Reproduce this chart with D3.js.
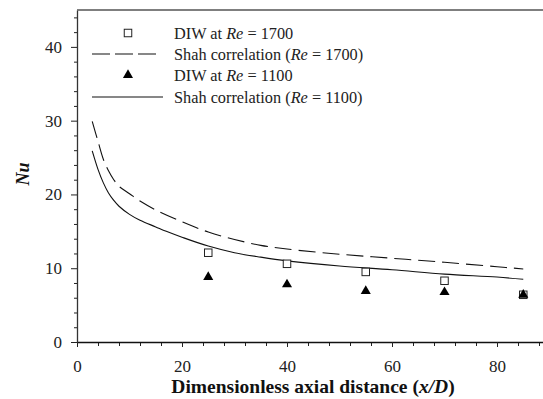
<!DOCTYPE html>
<html>
<head>
<meta charset="utf-8">
<script src="https://cdn.jsdelivr.net/npm/d3@7"></script>
<style>
  html, body { margin: 0; padding: 0; background: #fff; }
</style>
</head>
<body>
<svg id="chart" width="543" height="399"></svg>
<script>
// measured points (x/D)
const diwX = [25, 40, 55, 70, 85];
const diw1700 = [12.1, 10.6, 9.5, 8.3, 6.4];
const diw1100 = [8.8, 7.8, 6.9, 6.75, 6.4];

// Shah correlation curves
const shah1700X = [2.9, 4, 5, 6, 7, 8, 10, 12, 15, 20, 25, 30, 35, 40, 50, 60, 70, 80, 85];
const shah1700Y = [29.9, 27.2, 24.8, 23.2, 22.0, 21.1, 20.1, 19.1, 17.9, 16.3, 14.9, 13.9, 13.1, 12.6, 11.9, 11.35, 10.8, 10.2, 9.9];
const shah1100X = [2.9, 4, 5, 6, 7, 8, 10, 12, 15, 17, 20, 25, 30, 35, 40, 50, 60, 70, 80, 85];
const shah1100Y = [25.9, 23.4, 21.6, 20.2, 19.2, 18.4, 17.3, 16.5, 15.6, 15.0, 14.2, 13.0, 12.1, 11.5, 11.0, 10.3, 9.8, 9.2, 8.8, 8.5];

const xMajor = [0, 20, 40, 60, 80];
const yMajor = [0, 10, 20, 30, 40];

const FONT = 'Liberation Serif';

const svg = d3.select('#chart');
const L = 77, R = 543, T = 10, B = 342;

const x = d3.scaleLinear().domain([0, 88.76]).range([L, R]);
const y = d3.scaleLinear().domain([0, 45]).range([B, T]);

// minor ticks
const xMinor = d3.range(0, 89, 4).filter(v => !xMajor.includes(v));
const yMinor = d3.range(0, 45, 2).filter(v => !yMajor.includes(v));

// x axis
svg.append('g')
  .attr('transform', `translate(0,${B})`)
  .call(d3.axisBottom(x).tickValues(xMinor).tickSize(4).tickFormat(''))
  .call(g => g.select('.domain').remove())
  .call(g => g.selectAll('line').attr('stroke', '#222'));
svg.append('g')
  .attr('transform', `translate(0,${B})`)
  .call(d3.axisBottom(x).tickValues(xMajor).tickSize(5).tickPadding(13).tickSizeOuter(0))
  .call(g => g.attr('font-family', FONT).attr('font-size', 17))
  .call(g => g.select('.domain').attr('stroke', '#111').attr('stroke-width', 1.3))
  .call(g => g.selectAll('line').attr('stroke', '#222'))
  .call(g => g.selectAll('text').attr('fill', '#222'));

// y axis
svg.append('g')
  .attr('transform', `translate(${L},0)`)
  .call(d3.axisLeft(y).tickValues(yMinor).tickSize(3).tickFormat(''))
  .call(g => g.select('.domain').remove())
  .call(g => g.selectAll('line').attr('stroke', '#222'));
svg.append('g')
  .attr('transform', `translate(${L},0)`)
  .call(d3.axisLeft(y).tickValues(yMajor).tickSize(6).tickPadding(9).tickSizeOuter(0))
  .call(g => g.attr('font-family', FONT).attr('font-size', 17))
  .call(g => g.select('.domain').attr('stroke', '#333').attr('stroke-width', 1.3))
  .call(g => g.selectAll('line').attr('stroke', '#222'))
  .call(g => g.selectAll('text').attr('fill', '#222'));

// top frame line
svg.append('line')
  .attr('x1', L).attr('x2', R).attr('y1', T).attr('y2', T)
  .attr('stroke', '#555').attr('stroke-width', 1.5);

// curves
const line = d3.line().x(d => x(d[0])).y(d => y(d[1])).curve(d3.curveCatmullRom.alpha(0.5));
svg.append('path')
  .datum(shah1700X.map((v, i) => [v, shah1700Y[i]]))
  .attr('d', line).attr('fill', 'none').attr('stroke', '#111')
  .attr('stroke-width', 1.1).attr('stroke-dasharray', '17,7');
svg.append('path')
  .datum(shah1100X.map((v, i) => [v, shah1100Y[i]]))
  .attr('d', line).attr('fill', 'none').attr('stroke', '#111')
  .attr('stroke-width', 1.1);

// markers
const sq = 7.5;
svg.append('g').selectAll('rect')
  .data(diwX.map((v, i) => [v, diw1700[i]]))
  .join('rect')
  .attr('x', d => x(d[0]) - sq / 2).attr('y', d => y(d[1]) - sq / 2)
  .attr('width', sq).attr('height', sq)
  .attr('fill', '#fff').attr('stroke', '#222').attr('stroke-width', 1);

const tri = d3.symbol().type(d3.symbolTriangle).size(44);
svg.append('g').selectAll('path')
  .data(diwX.map((v, i) => [v, diw1100[i]]))
  .join('path')
  .attr('d', tri)
  .attr('transform', d => `translate(${x(d[0])},${y(d[1])})`)
  .attr('fill', '#000');

// legend
const legend = svg.append('g');
const lx0 = 92, lx1 = 158, tx = 174;
const rows = [
  { y: 33, pre: 'DIW at ', post: ' = 1700', tail: '' },
  { y: 54, pre: 'Shah correlation (', post: ' = 1700', tail: ')' },
  { y: 75, pre: 'DIW at ', post: ' = 1100', tail: '' },
  { y: 97, pre: 'Shah correlation (', post: ' = 1100', tail: ')' },
];
legend.append('rect')
  .attr('x', 128 - sq / 2).attr('y', rows[0].y - sq / 2)
  .attr('width', sq).attr('height', sq)
  .attr('fill', '#fff').attr('stroke', '#222');
legend.append('line')
  .attr('x1', lx0).attr('x2', lx1).attr('y1', rows[1].y).attr('y2', rows[1].y)
  .attr('stroke', '#111').attr('stroke-width', 1.1).attr('stroke-dasharray', '18,5');
legend.append('path')
  .attr('d', tri).attr('transform', `translate(128,${rows[2].y})`).attr('fill', '#000');
legend.append('line')
  .attr('x1', lx0).attr('x2', 163).attr('y1', rows[3].y).attr('y2', rows[3].y)
  .attr('stroke', '#111').attr('stroke-width', 1.1);

rows.forEach(r => {
  const t = legend.append('text')
    .attr('x', tx).attr('y', r.y + 5.5)
    .attr('font-family', FONT)
    .attr('font-size', 16.3).attr('fill', '#222');
  t.append('tspan').text(r.pre);
  t.append('tspan').attr('font-style', 'italic').text('Re');
  t.append('tspan').text(r.post + r.tail);
});

// axis titles
const xt = svg.append('text')
  .attr('x', 313).attr('y', 393)
  .attr('text-anchor', 'middle')
  .attr('font-family', FONT)
  .attr('font-size', 19.5).attr('font-weight', 'bold').attr('fill', '#111');
xt.append('tspan').text('Dimensionless axial distance (');
xt.append('tspan').attr('font-style', 'italic').text('x/D');
xt.append('tspan').text(')');

svg.append('text')
  .attr('transform', 'translate(29,174) rotate(-90)')
  .attr('text-anchor', 'middle')
  .attr('font-family', FONT)
  .attr('font-size', 18).attr('font-weight', 'bold').attr('font-style', 'italic')
  .attr('fill', '#111')
  .text('Nu');
</script>
</body>
</html>
